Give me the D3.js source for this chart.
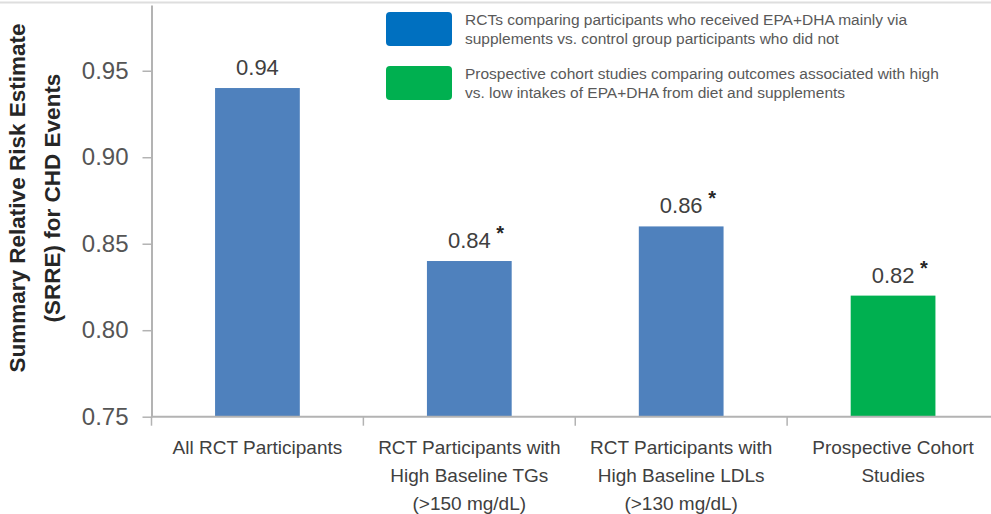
<!DOCTYPE html>
<html>
<head>
<meta charset="utf-8">
<script src="https://cdn.jsdelivr.net/npm/d3@7"></script>
<style>
  body { margin: 0; background: #fff; }
  svg { display: block; }
  text { font-family: "Liberation Sans", sans-serif; }
</style>
</head>
<body>
<svg id="svg" width="991" height="514"></svg>
<script>
const categories = [
  ["All RCT Participants"],
  ["RCT Participants with", "High Baseline TGs", "(>150 mg/dL)"],
  ["RCT Participants with", "High Baseline LDLs", "(>130 mg/dL)"],
  ["Prospective Cohort", "Studies"]
];
const values = [0.94, 0.84, 0.86, 0.82];
const valueLabels = ["0.94", "0.84", "0.86", "0.82"];
const significant = [false, true, true, true];
const series = ["rct", "rct", "rct", "cohort"];
const yTicks = [0.75, 0.80, 0.85, 0.90, 0.95];
const legendItems = [
  { key: "rct", lines: ["RCTs comparing participants who received EPA+DHA mainly via",
                        "supplements vs. control group participants who did not"] },
  { key: "cohort", lines: ["Prospective cohort studies comparing outcomes associated with high",
                           "vs. low intakes of EPA+DHA from diet and supplements"] }
];

const barColor = { rct: "#4f81bd", cohort: "#00b050" };
const legendColor = { rct: "#0070c0", cohort: "#00b050" };

const svg = d3.select("svg#svg");

const x = d3.scaleBand()
  .domain(d3.range(categories.length))
  .range([151.5, 999])
  .paddingInner(0.6)
  .paddingOuter(0.3);

const y = d3.scaleLinear()
  .domain([0.75, 0.988])
  .range([416.7, 5]);

// top border
svg.append("line")
  .attr("x1", 0).attr("x2", 991)
  .attr("y1", 2.5).attr("y2", 2.5)
  .attr("stroke", "#dedede")
  .attr("stroke-width", 2);

// bars
svg.append("g").selectAll("rect")
  .data(values)
  .enter()
  .append("rect")
  .attr("x", (d, i) => x(i))
  .attr("width", x.bandwidth())
  .attr("y", d => y(d))
  .attr("height", d => y(0.75) - y(d))
  .attr("fill", (d, i) => barColor[series[i]]);

// y axis
const yAxis = svg.append("g")
  .attr("transform", "translate(151.5,0)")
  .call(d3.axisLeft(y).tickValues(yTicks).tickFormat(d3.format(".2f")).tickSize(9).tickPadding(14).tickSizeOuter(0));
yAxis.select(".domain").attr("stroke", "#b3b3b3").attr("stroke-width", 2);
yAxis.selectAll(".tick line").attr("stroke", "#b3b3b3").attr("stroke-width", 1.5);
yAxis.selectAll(".tick text")
  .attr("fill", "#555")
  .style("font-family", "'Liberation Sans', sans-serif")
  .style("font-size", "24px");

// x axis line + category boundary ticks
const xAxis = svg.append("g")
  .attr("transform", "translate(0,416.7)");
xAxis.append("line")
  .attr("x1", 151.5).attr("x2", 991)
  .attr("stroke", "#b3b3b3").attr("stroke-width", 2);
xAxis.selectAll("line.sep")
  .data(d3.range(categories.length))
  .enter()
  .append("line")
  .attr("class", "sep")
  .attr("x1", i => x(i) + x.bandwidth() / 2 - x.step() / 2)
  .attr("x2", i => x(i) + x.bandwidth() / 2 - x.step() / 2)
  .attr("y1", 0).attr("y2", 9)
  .attr("stroke", "#b3b3b3").attr("stroke-width", 1.5);

// category labels
const catLabels = svg.append("g").selectAll("text")
  .data(categories)
  .enter()
  .append("text")
  .attr("x", (d, i) => x(i) + x.bandwidth() / 2)
  .attr("y", 454)
  .attr("text-anchor", "middle")
  .attr("fill", "#404040")
  .style("font-size", "19px");
catLabels.each(function(lines) {
  d3.select(this).selectAll("tspan")
    .data(lines)
    .enter()
    .append("tspan")
    .attr("x", d3.select(this).attr("x"))
    .attr("dy", (d, j) => j === 0 ? 0 : 28)
    .text(d => d);
});

// value labels
const vl = svg.append("g").selectAll("g")
  .data(values)
  .enter()
  .append("g")
  .attr("transform", (d, i) => "translate(" + (x(i) + x.bandwidth() / 2) + "," + (y(d) - 13) + ")");
vl.append("text")
  .attr("text-anchor", "middle")
  .attr("fill", "#404040")
  .style("font-size", "22px")
  .text((d, i) => valueLabels[i]);
vl.filter((d, i) => significant[i])
  .append("text")
  .attr("x", 27)
  .attr("y", -8)
  .attr("text-anchor", "start")
  .attr("fill", "#262626")
  .style("font-size", "20px")
  .style("font-weight", "bold")
  .text("*");

// y axis title
const yTitle = svg.append("text")
  .attr("transform", "translate(0,198) rotate(-90)")
  .attr("text-anchor", "middle")
  .attr("fill", "#262626")
  .style("font-weight", "bold")
  .style("font-size", "22.5px");
yTitle.append("tspan").attr("x", 0).attr("y", 25).text("Summary Relative Risk Estimate");
yTitle.append("tspan").attr("x", 0).attr("y", 60).text("(SRRE) for CHD Events");

// legend
const legend = svg.append("g").selectAll("g")
  .data(legendItems)
  .enter()
  .append("g")
  .attr("transform", (d, i) => "translate(386," + (12 + i * 54) + ")");
legend.append("rect")
  .attr("width", 66).attr("height", 34)
  .attr("rx", 4)
  .attr("fill", d => legendColor[d.key]);
legend.each(function(d) {
  d3.select(this).selectAll("text")
    .data(d.lines)
    .enter()
    .append("text")
    .attr("x", 79)
    .attr("y", (t, j) => 13 + j * 19)
    .attr("fill", "#595959")
    .style("font-size", "15.5px")
    .text(t => t);
});
</script>
</body>
</html>
